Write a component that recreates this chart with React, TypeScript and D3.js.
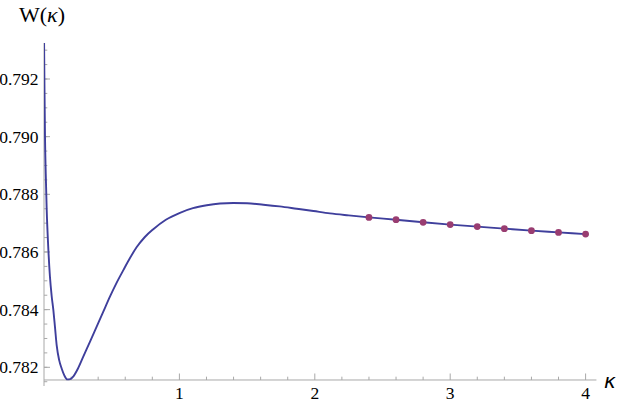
import React from 'react';
import * as d3 from 'd3';

// W(kappa) curve
const curveK = [0, 0.004, 0.0074, 0.013, 0.02, 0.031, 0.044, 0.056, 0.069, 0.081, 0.094, 0.112, 0.131, 0.15, 0.172, 0.194, 0.216, 0.25, 0.29, 0.34, 0.389, 0.438, 0.487, 0.536, 0.586, 0.635, 0.685, 0.745, 0.807, 0.9, 1.004, 1.1, 1.202, 1.3, 1.398, 1.5, 1.62, 1.74, 1.866, 1.99, 2.112, 2.25, 2.4, 2.6, 2.8, 3.0, 3.2, 3.4, 3.6, 3.8, 4.0];
const curveW = [0.7936, 0.7915, 0.79, 0.7887, 0.78746, 0.7862, 0.78514, 0.7845, 0.78399, 0.7834, 0.78275, 0.78225, 0.78195, 0.78172, 0.78158, 0.78159, 0.78168, 0.78195, 0.78237, 0.78289, 0.78341, 0.78393, 0.78445, 0.78493, 0.78537, 0.78579, 0.78617, 0.78652, 0.78679, 0.78712, 0.78736, 0.78752, 0.78762, 0.78768, 0.7877, 0.78769, 0.78764, 0.78758, 0.7875, 0.78742, 0.78734, 0.78727, 0.7872, 0.78712, 0.78703, 0.78695, 0.78688, 0.78681, 0.78674, 0.78668, 0.78662];

// sampled points
const dotK = [2.4, 2.6, 2.8, 3.0, 3.2, 3.4, 3.6, 3.8, 4.0];
const dotW = [0.7872, 0.78712, 0.78703, 0.78695, 0.78688, 0.78681, 0.78674, 0.78668, 0.78662];

const xTicks = [1, 2, 3, 4];
const yTicks = [0.782, 0.784, 0.786, 0.788, 0.79, 0.792];

const W = 623;
const H = 406;
const lineColor = '#3f3f9c';
const dotColor = '#993d71';
const axisColor = '#a8a8a8';

const App = () => {
  const x = d3.scaleLinear().domain([0, 4]).range([44, 585.6]);
  const y = d3.scaleLinear().domain([0.782, 0.792]).range([367.3, 79]);

  const xMin = 0;
  const xMax = 4.08;
  const yOrigin = 0.78156;
  const yTop = 0.79325;

  const pts: [number, number][] = curveK.map((k, i) => [k, curveW[i]]);
  const line = d3.line<[number, number]>()
    .x(d => x(d[0]))
    .y(d => y(d[1]))
    .curve(d3.curveMonotoneX);

  // minor ticks
  const xMinor = d3.range(1, 21).map(i => i * 0.2).filter(v => Math.abs(v - Math.round(v)) > 1e-6);
  const yMinor = d3.range(0, 24).map(i => 0.7815 + i * 0.0005).filter(v => v <= yTop + 1e-9);

  const serif = '"Liberation Serif", "Times New Roman", Times, serif';

  return (
    <svg width={W} height={H} style={{ position: 'absolute', left: 0, top: 0, background: '#fff' }}>
      <defs>
        <clipPath id="plotClip">
          <rect x={x(xMin)} y={y(yTop)} width={x(xMax) - x(xMin)} height={y(0.7814) - y(yTop)} />
        </clipPath>
      </defs>

      {/* x axis */}
      <line x1={x(xMin)} x2={x(xMax)} y1={y(yOrigin)} y2={y(yOrigin)} stroke={axisColor} />
      {xMinor.map(v => (
        <line key={'xm' + v} x1={x(v)} x2={x(v)} y1={y(yOrigin)} y2={y(yOrigin) - 3.3} stroke={axisColor} />
      ))}
      {xTicks.map(v => (
        <g key={'xt' + v}>
          <line x1={x(v)} x2={x(v)} y1={y(yOrigin)} y2={y(yOrigin) - 6.5} stroke={axisColor} />
          <text x={x(v)} y={398.5} textAnchor="middle" style={{ fontFamily: serif }} fontSize={17.5} fill="#000">{v}</text>
        </g>
      ))}

      {/* y axis */}
      <line x1={x(0)} x2={x(0)} y1={y(yTop)} y2={386} stroke={axisColor} />
      {yMinor.map(v => (
        <line key={'ym' + v} x1={x(0)} x2={x(0) + 3.3} y1={y(v)} y2={y(v)} stroke={axisColor} />
      ))}
      {yTicks.map(v => (
        <g key={'yt' + v}>
          <line x1={x(0)} x2={x(0) + 6} y1={y(v)} y2={y(v)} stroke={axisColor} />
          <text x={38.5} y={y(v) + 6} textAnchor="end" style={{ fontFamily: serif }} fontSize={17.5} fill="#000">{d3.format('.3f')(v)}</text>
        </g>
      ))}

      {/* curve */}
      <g clipPath="url(#plotClip)">
        <path d={line(pts) || ''} fill="none" stroke={lineColor} strokeWidth={1.9} />
      </g>

      {/* points */}
      {dotK.map((k, i) => (
        <circle key={'d' + k} cx={x(k)} cy={y(dotW[i])} r={3.4} fill={dotColor} />
      ))}

      {/* labels */}
      <text x={19} y={21.5} style={{ fontFamily: serif }} fontSize={22} fill="#000">
        W(<tspan fontStyle="italic">κ</tspan>)
      </text>
      <text x={604} y={388} style={{ fontFamily: '"DejaVu Sans", sans-serif' }} fontSize={20} fontStyle="italic" fill="#000">κ</text>
    </svg>
  );
};

export default App;
